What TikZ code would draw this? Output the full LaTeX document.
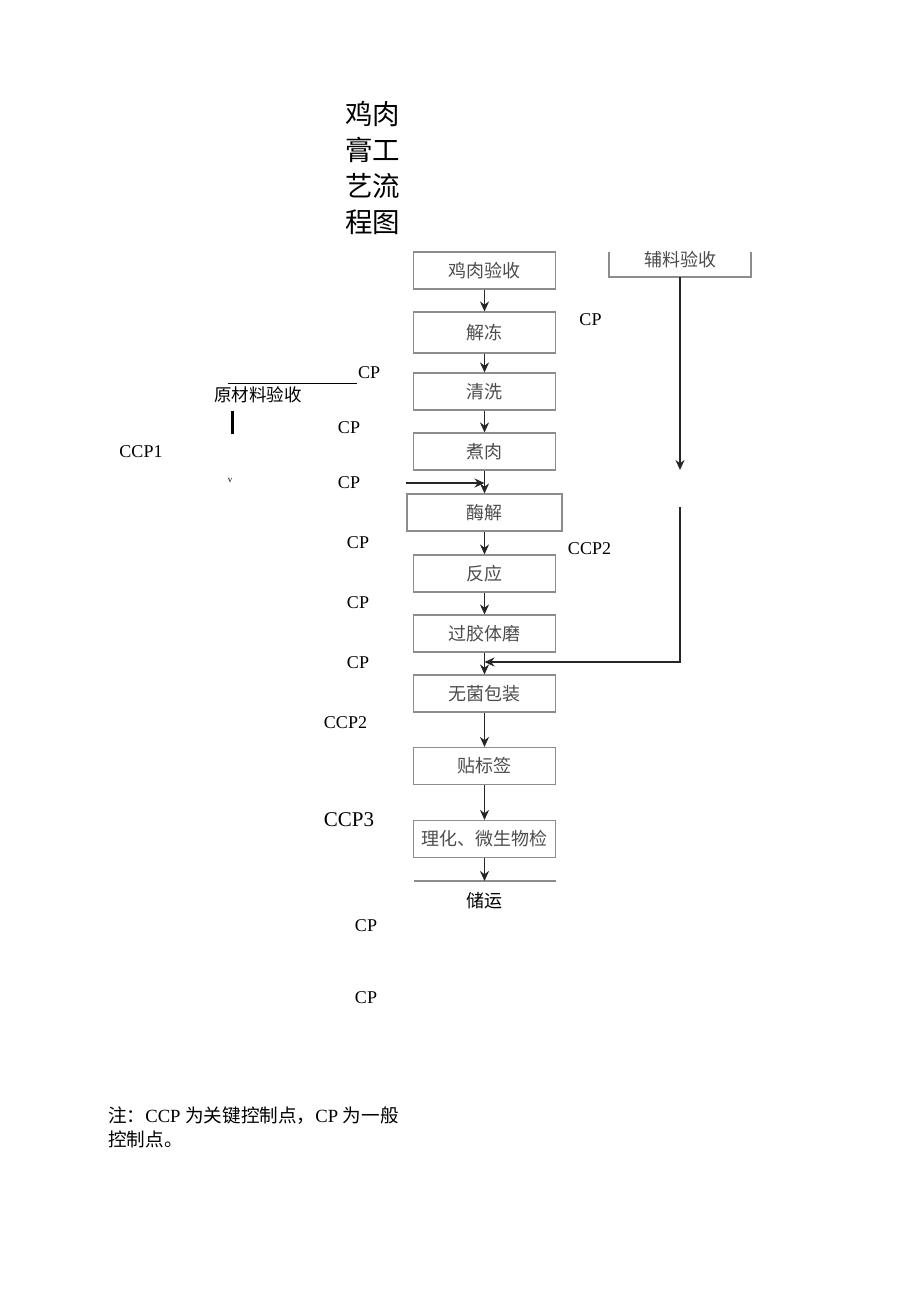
\documentclass[tikz,border=0pt]{standalone}
\usepackage{fontspec}
\setmainfont{Liberation Serif}
\newfontfamily\cjk{Noto Sans CJK SC}
\usetikzlibrary{arrows.meta}
\begin{document}
\begin{tikzpicture}[x=1pt,y=-1pt,
  stepbox/.style={draw=black!45, line width=1.1pt, minimum width=142pt, minimum height=37pt,
    inner sep=0pt, text=black!70, font=\cjk\fontsize{18}{18}\selectfont},
  frame/.style={draw=black!45, line width=1.1pt},
  flow/.style={draw=black!85, line width=1.8pt, -{Stealth[length=10pt,width=9pt]}},
  lab/.style={inner sep=0pt, font=\fontsize{18}{18}\selectfont},
  cjklab/.style={inner sep=0pt, font=\cjk\fontsize{18}{18}\selectfont}]
\useasboundingbox (0,0) rectangle (920,1301);
% title
\node[inner sep=0pt, anchor=north west, align=left, font=\cjk\fontsize{27.5}{36}\selectfont] (title) at (345,101) {鸡肉\\膏工\\艺流\\程图};
% main chain
\node[stepbox] (a1) at (484.5,270.5) {鸡肉验收};
\node[stepbox, minimum height=41pt] (a2) at (484.5,332.5) {解冻};
\node[stepbox] (a3) at (484.5,391.5) {清洗};
\node[stepbox] (a4) at (484.5,451.5) {煮肉};
\node[stepbox, minimum width=155pt] (a5) at (484.5,512.5) {酶解};
\node[stepbox] (a6) at (484.5,573.5) {反应};
\node[stepbox] (a7) at (484.5,633.5) {过胶体磨};
\node[stepbox] (a8) at (484.5,693.5) {无菌包装};
\node[stepbox] (a9) at (484.5,766) {贴标签};
\node[stepbox] (a10) at (484.5,839) {理化、微生物检};
\coordinate (endl) at (414,881);
\coordinate (endr) at (556,881);
\coordinate (endc) at (484.5,881);
\draw[frame] (endl) -- (endr);
\node[cjklab] (a11) at (484,901) {储运};
\foreach \i/\j in {a1/a2,a2/a3,a3/a4,a4/a5,a5/a6,a6/a7,a7/a8,a8/a9,a9/a10}
  \draw[flow] (\i.south) -- (\j.north);
\draw[flow] (a10.south) -- (endc);
% side input into 酶解
\coordinate (lin) at (406,483);
\coordinate (lend) at (484.5,483);
\draw[flow] (lin) -- (lend);
% auxiliary material branch
\draw[frame] (609,252) -- (609,277) -- (751,277) -- (751,252);
\node[cjklab, text=black!70] (b1) at (680,260) {辅料验收};
\coordinate (b1s) at (680,277);
\coordinate (b1e) at (680,470);
\draw[flow] (b1s) -- (b1e);
\coordinate (b2s) at (680,507);
\coordinate (b2c) at (680,662);
\coordinate (b2e) at (484.5,662);
\draw[flow] (b2s) -- (b2c) -- (b2e);
% left group
\coordinate (ll) at (228,383);
\coordinate (lr) at (357,383);
\draw[line width=1pt] (ll) -- (lr);
\node[lab, anchor=west] (cp0) at (358,373) {CP};
\node[cjklab, font=\cjk\fontsize{17.5}{18}\selectfont] (raw) at (258,395) {原材料验收};
\coordinate (bart) at (232,411);
\coordinate (barb) at (232,434);
\draw[line width=3pt] (bart) -- (barb);
\node[lab, font=\fontsize{9}{9}\selectfont] (vv) at (230,480) {v};
\node[lab] (ccp1) at (141,452) {CCP1};
% CP labels
\node[lab] (cp1) at (590.5,320) {CP};
\node[lab] (cp2) at (349,428) {CP};
\node[lab] (cp3) at (349,483) {CP};
\node[lab] (cp4) at (358,543) {CP};
\node[lab] (cp5) at (358,603) {CP};
\node[lab] (cp6) at (358,663) {CP};
\node[lab] (ccp2a) at (589.5,549) {CCP2};
\node[lab] (ccp2b) at (345.5,723) {CCP2};
\node[lab, font=\fontsize{21}{21}\selectfont] (ccp3) at (349,820) {CCP3};
\node[lab] (cp7) at (366,926) {CP};
\node[lab] (cp8) at (366,998) {CP};
% note
\node[inner sep=0pt, anchor=north west, align=left, font=\fontsize{18.6}{24}\selectfont] (note) at (108,1107)
  {{\cjk 注：}CCP {\cjk 为关键控制点，}CP {\cjk 为一般}\\{\cjk 控制点。}};
\end{tikzpicture}
\end{document}
